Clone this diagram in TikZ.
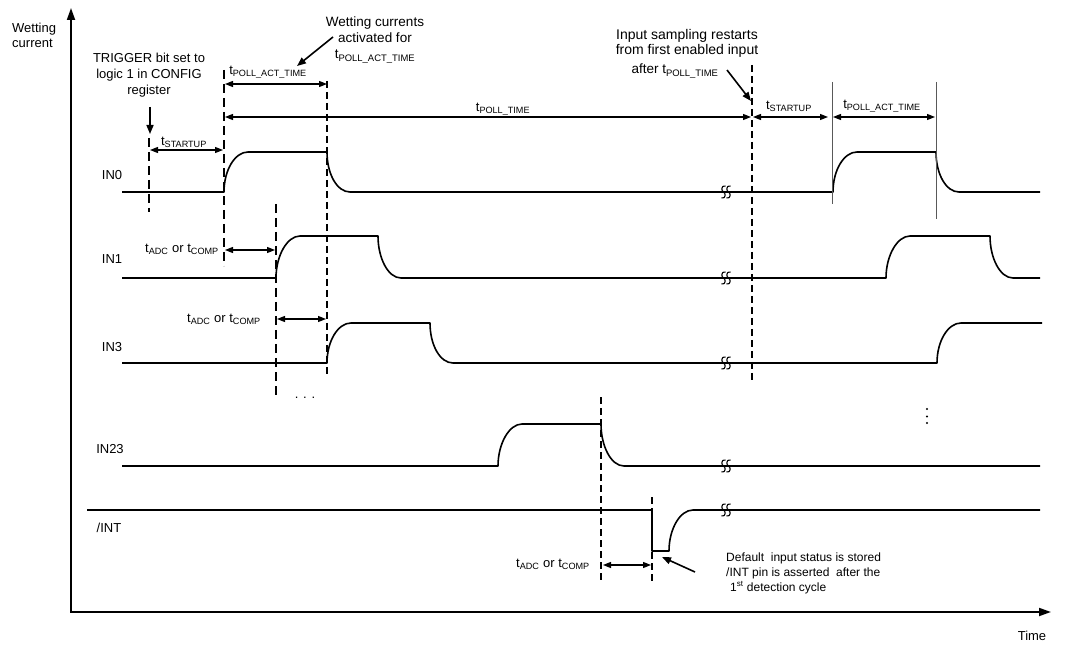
\documentclass[tikz,border=0pt]{standalone}
\usepackage{fontspec}
\setmainfont{Liberation Sans}
\usetikzlibrary{arrows.meta}
\newcommand\ts[1]{t\textsubscript{#1}}
\begin{document}
\begin{tikzpicture}[x=1pt,y=-1pt,
  sig/.style={line width=1.6pt, line join=round},
  axis/.style={line width=1.8pt,{Triangle[length=12pt,width=8pt]}-{Triangle[length=12pt,width=8pt]}},
  dim/.style={line width=1.3pt,{Triangle[length=8pt,width=6pt]}-{Triangle[length=8pt,width=6pt]}},
  note/.style={line width=1.6pt,-{Triangle[length=9pt,width=7pt]}},
  thindash/.style={line width=1.2pt,dash pattern=on 9pt off 5pt},
  thickdash/.style={line width=2.2pt,dash pattern=on 7pt off 4pt},
  guide/.style={line width=0.9pt,black!65},
  lbl/.style={font=\fontsize{13}{15}\selectfont, inner sep=0pt},
  sub/.style={font=\fontsize{13}{15}\selectfont, inner sep=0pt},
  txt/.style={font=\fontsize{13.5}{16}\selectfont, inner sep=0pt, align=center},
  brkmark/.style={line width=1.1pt},
  rise/.style n args={3}{insert path={.. controls (#1,#2-22) and (#1+11,#3) .. (#1+24,#3)}},
  fall/.style n args={3}{insert path={.. controls (#1,#2+22) and (#1+10,#3) .. (#1+23,#3)}}
]
\useasboundingbox (0,0) rectangle (1080,647);

% axes
\coordinate (O) at (71,612);
\coordinate (ytop) at (71,8);
\coordinate (xend) at (1051,612);
\draw[axis] (ytop) -- (O) -- (xend);
\node[lbl, align=left, anchor=west] (ylab) at (12,35) {Wetting\\current};
\node[lbl] (xlab) at (1032,636) {Time};

% signal labels
\node[lbl] (l0) at (112,175) {IN0};
\node[lbl] (l1) at (112,259) {IN1};
\node[lbl] (l3) at (112,347) {IN3};
\node[lbl] (l23) at (110,449) {IN23};
\node[lbl] (lint) at (109,528) {/INT};

% signals
\draw[sig] (122,192) -- (224,192) [rise={224}{192}{152}] -- (327,152) [fall={327}{152}{192}]
  -- (833,192) [rise={833}{192}{152}] -- (936,152) [fall={936}{152}{192}] -- (1040,192);
\draw[sig] (122,278) -- (276,278) [rise={276}{278}{236}] -- (378,236) [fall={378}{236}{278}]
  -- (886,278) [rise={886}{278}{236}] -- (990,236) [fall={990}{236}{278}] -- (1040,278);
\draw[sig] (122,363) -- (327,363) [rise={327}{363}{323}] -- (430,323) [fall={430}{323}{363}]
  -- (937,363) [rise={937}{363}{323}] -- (1042,323);
\draw[sig] (122,466) -- (498,466) [rise={498}{466}{424}] -- (601,424) [fall={601}{424}{466}]
  -- (1040,466);
\draw[sig] (87,510) -- (652,510) -- (652,551) -- (669,551) [rise={669}{551}{510}] -- (1040,510);

% break marks
\foreach \yy in {192,278,363,466,510}{
  \foreach \xx in {723.5,728.5}{
    \draw[brkmark] (\xx+2,\yy-6) .. controls (\xx-2.5,\yy-7) and (\xx-2.5,\yy-1) .. (\xx,\yy)
      .. controls (\xx+2.5,\yy+1) and (\xx+2.5,\yy+7) .. (\xx-2,\yy+6);
  }
}

% vertical reference lines
\draw[thindash] (149,138) -- (149,212);
\draw[thindash] (224,70) -- (224,266);
\draw[thindash] (276,204) -- (276,399);
\draw[thickdash] (327,81) -- (327,376);
\draw[thickdash] (752,65) -- (752,380);
\draw[thickdash] (601,397) -- (601,581);
\draw[thickdash] (652,497) -- (652,583);
\draw[guide] (832,82) -- (832,204);
\draw[guide] (936,82) -- (936,219);

% dimension arrows
\coordinate (s1a) at (150,150); \coordinate (s1b) at (223,150);
\coordinate (p1a) at (225,84);  \coordinate (p1b) at (327,84);
\coordinate (pta) at (225,117); \coordinate (ptb) at (751,117);
\coordinate (s2a) at (753,117); \coordinate (s2b) at (828,117);
\coordinate (p2a) at (833,117); \coordinate (p2b) at (935,117);
\coordinate (a1a) at (225,250); \coordinate (a1b) at (275,250);
\coordinate (a2a) at (277,319); \coordinate (a2b) at (326,319);
\coordinate (a3a) at (603,565); \coordinate (a3b) at (651,565);
\draw[dim] (s1a) -- (s1b);
\draw[dim] (p1a) -- (p1b);
\draw[dim] (pta) -- (ptb);
\draw[dim] (s2a) -- (s2b);
\draw[dim] (p2a) -- (p2b);
\draw[dim] (a1a) -- (a1b);
\draw[dim] (a2a) -- (a2b);
\draw[dim] (a3a) -- (a3b);

\node[sub] (ts1) at (184,142) {\ts{STARTUP}};
\node[sub] (tp1) at (268,72) {\ts{POLL\_ACT\_TIME}};
\node[sub] (tpt) at (503,109) {\ts{POLL\_TIME}};
\node[sub] (ts2) at (789,106) {\ts{STARTUP}};
\node[sub] (tp2) at (882,106) {\ts{POLL\_ACT\_TIME}};
\node[sub] (ta1) at (182,249) {\ts{ADC} or \ts{COMP}};
\node[sub] (ta2) at (224,319) {\ts{ADC} or \ts{COMP}};
\node[sub] (ta3) at (553,564) {\ts{ADC} or \ts{COMP}};

% dots
\node[lbl] (dots) at (305,398) {. . .};
\foreach \yy in {409,416.5,423}{
  \fill (927,\yy) circle (1.1pt);
}

% annotations
\node[txt, font=\fontsize{13}{16}\selectfont] (trig) at (149,75) {TRIGGER bit set to\\logic 1 in CONFIG\\register};
\node[txt] (wet) at (375,40) {Wetting currents\\activated for\\\ts{POLL\_ACT\_TIME}};
\node[txt, font=\fontsize{14}{15}\selectfont] (inp) at (687,43) {Input sampling restarts\\from first enabled input};
\node[txt] (aft) at (675,71) {after \ts{POLL\_TIME}};
\node[txt, font=\fontsize{12}{15}\selectfont, align=left, anchor=west] (dflt) at (726,573)
  {Default\ \ input status is stored\\/INT pin is asserted\ \ after the\\\hspace{4pt}1\textsuperscript{st} detection cycle};

\coordinate (trA) at (150,107); \coordinate (trB) at (150,134);
\coordinate (weA) at (333,37);  \coordinate (weB) at (297,66);
\coordinate (inA) at (727,70);  \coordinate (inB) at (751,101);
\coordinate (dfA) at (695,572); \coordinate (dfB) at (662,557);
\draw[note] (trA) -- (trB);
\draw[note] (weA) -- (weB);
\draw[note] (inA) -- (inB);
\draw[note] (dfA) -- (dfB);
\end{tikzpicture}
\end{document}
